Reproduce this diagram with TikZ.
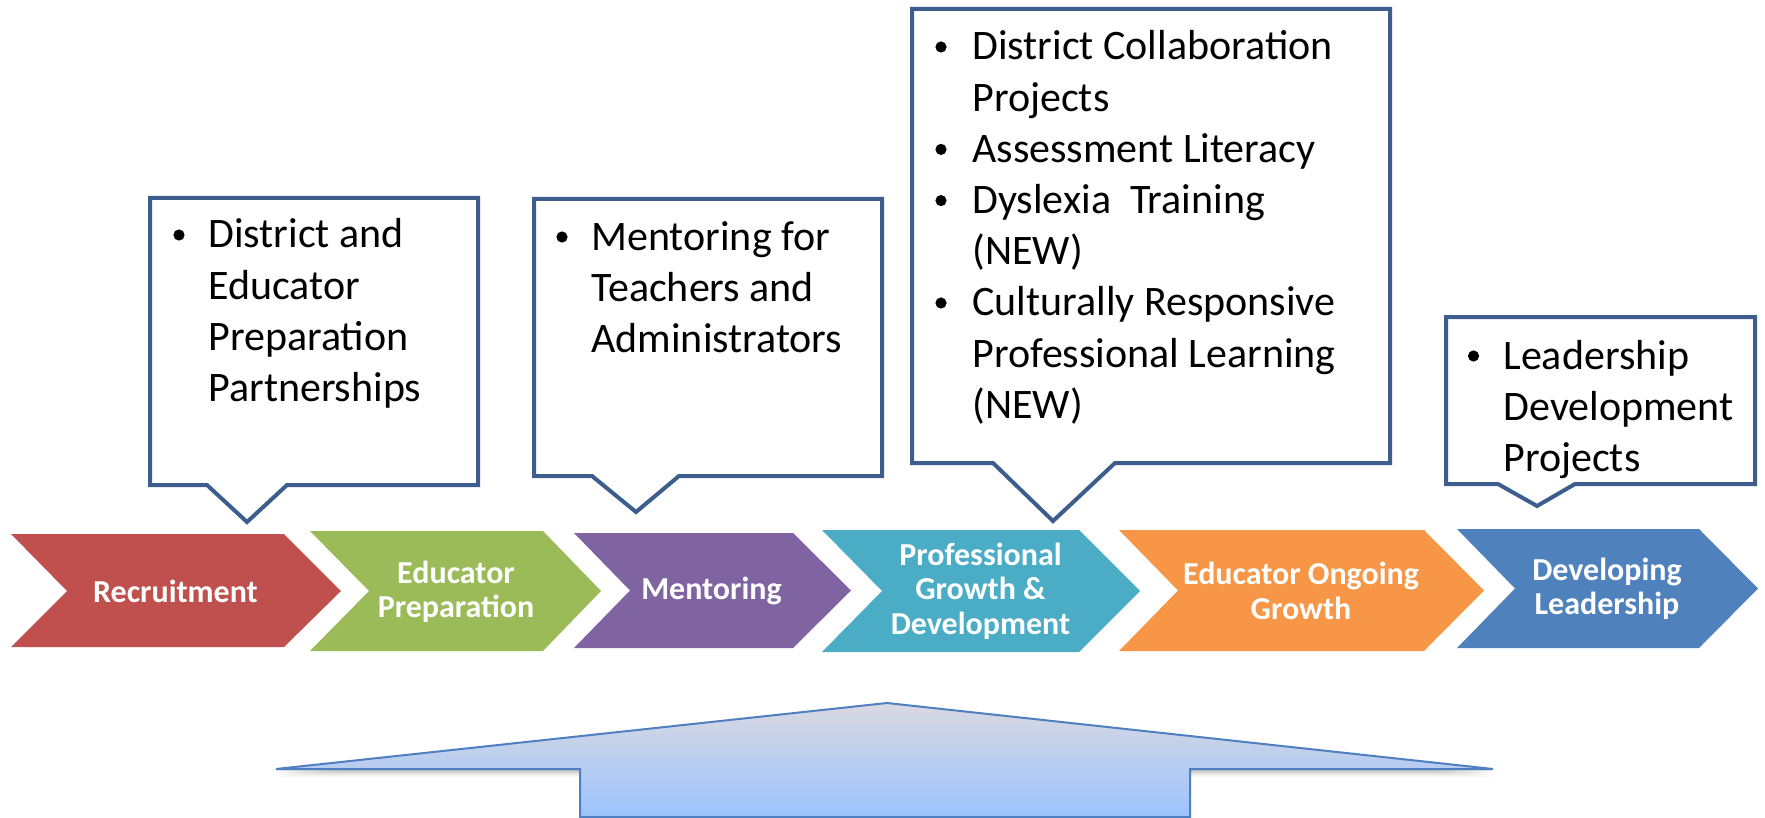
\documentclass[tikz,border=0pt]{standalone}
\usepackage{fontspec}
\setmainfont{Carlito}
\definecolor{cred}{HTML}{C0504D}
\definecolor{cgreen}{HTML}{9BBB59}
\definecolor{cpurple}{HTML}{8064A2}
\definecolor{cteal}{HTML}{4BACC6}
\definecolor{corange}{HTML}{F79646}
\definecolor{cblue}{HTML}{4F81BD}
\definecolor{cbord}{HTML}{3D5E8D}
\definecolor{atop}{HTML}{D9D9E1}
\definecolor{abot}{HTML}{9DC3FE}
\definecolor{abord}{HTML}{4F7FC0}
\begin{document}
\begin{tikzpicture}[x=0.5pt,y=-0.5pt,
  chevtext/.style={text=white, font=\fontsize{16}{17.25}\selectfont\bfseries, align=center, inner sep=0pt},
  callout/.style={draw=cbord, line width=2pt, fill=white, line join=miter},
  calltext/.style={anchor=base west, inner sep=0pt, font=\fontsize{21}{25.6}\selectfont},
  bulletdot/.style={fill=black}]
\useasboundingbox (0,0) rectangle (1765,818);
% chevrons
\fill[cred]    (11,534) -- (284,534) -- (341,591) -- (284,647) -- (11,647) -- (67,591) -- cycle;
\fill[cgreen]  (310,531) -- (543,531) -- (601,591) -- (543,651) -- (310,651) -- (369,591) -- cycle;
\fill[cpurple] (574,533) -- (793,533) -- (851,590.5) -- (793,648) -- (574,648) -- (630,590.5) -- cycle;
\fill[cteal]   (822,530) -- (1079,530) -- (1140,591) -- (1079,652) -- (822,652) -- (882,591) -- cycle;
\fill[corange] (1119,530) -- (1424,530) -- (1484,590.5) -- (1424,651) -- (1119,651) -- (1178,590.5) -- cycle;
\fill[cblue]   (1457,529) -- (1699,529) -- (1758,588.5) -- (1699,648) -- (1457,648) -- (1515,588.5) -- cycle;
\node[chevtext] (ch1) at (175.5,591) {Recruitment};
\node[chevtext] (ch2) at (456,592) {Educator\\Preparation};
\node[chevtext] (ch3) at (711.5,591) {Mentoring};
\node[chevtext] (ch4) at (980.5,591) {Professional\\Growth \&\\Development};
\node[chevtext] (ch5) at (1301,591) {Educator Ongoing\\Growth};
\node[chevtext] (ch6) at (1607,589) {Developing\\Leadership};
% callouts
\draw[callout] (150,198) -- (478,198) -- (478,485) -- (287,485) -- (247,522) -- (207,485) -- (150,485) -- cycle;
\draw[callout] (534,199) -- (882,199) -- (882,476) -- (679,476) -- (636,512) -- (592,476) -- (534,476) -- cycle;
\draw[callout] (912,9) -- (1390,9) -- (1390,463) -- (1115,463) -- (1053,521) -- (993,463) -- (912,463) -- cycle;
\draw[callout] (1446,317) -- (1755,317) -- (1755,484) -- (1575,484) -- (1537,506) -- (1498,484) -- (1446,484) -- cycle;
% bullets
\fill[bulletdot] (179,235) circle[radius=2.8pt];
\fill[bulletdot] (562,237) circle[radius=2.8pt];
\fill[bulletdot] (941,47) circle[radius=2.8pt];
\fill[bulletdot] (941,149.4) circle[radius=2.8pt];
\fill[bulletdot] (941,200.6) circle[radius=2.8pt];
\fill[bulletdot] (941,303) circle[radius=2.8pt];
\fill[bulletdot] (1473.5,356) circle[radius=2.8pt];
% texts
\node[calltext] (t1) at (208,248) {\begin{tabular}[t]{@{}l@{}}District and\\ Educator\\ Preparation\\ Partnerships\end{tabular}};
\node[calltext] (t2) at (591,250) {\begin{tabular}[t]{@{}l@{}}Mentoring for\\ Teachers and\\ Administrators\end{tabular}};
\node[calltext] (t3) at (972,60) {\begin{tabular}[t]{@{}l@{}}District Collaboration\\ Projects\\ Assessment Literacy\\ Dyslexia\ \ Training\\ (NEW)\\ Culturally Responsive\\ Professional Learning\\ (NEW)\end{tabular}};
\node[calltext] (t4) at (1503,369) {\begin{tabular}[t]{@{}l@{}}Leadership\\ Development\\ Projects\end{tabular}};
% big arrow
\foreach \s/\o in {2/0.10,4/0.08,6/0.06,8/0.04}{
  \fill[black,opacity=\o] (276,769+\s) -- (887,703+\s) -- (1493,769+\s) -- (1190,769+\s) -- (1190,830) -- (580,830) -- (580,769+\s) -- cycle;
}
\draw[draw=abord, line width=1pt, top color=atop, bottom color=abot] (276,769) -- (887,703) -- (1493,769) -- (1190,769) -- (1190,817) -- (580,817) -- (580,769) -- cycle;
\end{tikzpicture}
\end{document}
